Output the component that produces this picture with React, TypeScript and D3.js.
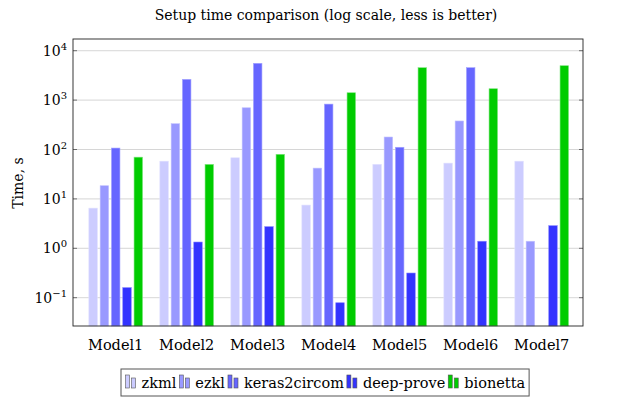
import React, { useEffect, useRef } from "react";
import * as d3 from "d3";

const models = ["Model1", "Model2", "Model3", "Model4", "Model5", "Model6", "Model7"];
const seriesNames = ["zkml", "ezkl", "keras2circom", "deep-prove", "bionetta"];
const zkml = [6.5, 58, 68, 7.5, 50, 53, 58];
const ezkl = [18.5, 333, 700, 42, 179, 378, 1.39];
const keras2circom = [107, 2630, 5560, 830, 111, 4530, null];
const deepProve = [0.16, 1.34, 2.74, 0.079, 0.316, 1.39, 2.87];
const bionetta = [70, 50, 80, 1410, 4530, 1700, 4970];
const seriesValues: (number | null)[][] = [zkml, ezkl, keras2circom, deepProve, bionetta];
const fills = ["#ccccff", "#9999ff", "#6666ff", "#3333ff", "#00cc00"];
const strokes = ["#e0e0ff", "#c2c2ff", "#a3a3ff", "#8585ff", "#80e680"];
const yTicks = [0.1, 1, 10, 100, 1000, 10000];
const yTickExp = ["−1", "0", "1", "2", "3", "4"];

const W = 625;
const H = 404;
const FONT = "DejaVu Serif";
const FS = 14;

export default function App() {
  const ref = useRef<SVGSVGElement>(null);
  useEffect(() => {
    const svg = d3.select(ref.current);
    svg.selectAll("*").remove();
    const left = 73, right = 583, top = 39, bottom = 326;

    const y = d3.scaleLog().domain([Math.pow(10, -1.573), Math.pow(10, 4.237)]).range([bottom, top]);
    const x = d3.scalePoint<string>().domain(models).range([115.7, 541.7]);
    const barW = 8.5, step = 11.3;

    svg.append("g").selectAll("line").data(yTicks).join("line")
      .attr("x1", left).attr("x2", right)
      .attr("y1", d => y(d)).attr("y2", d => y(d))
      .attr("stroke", "#cccccc").attr("stroke-width", 0.8);

    seriesValues.forEach((vals, si) => {
      svg.append("g").selectAll("rect").data(vals.map((v, i) => ({ v, m: models[i] })).filter(d => d.v != null))
        .join("rect")
        .attr("x", d => (x(d.m) as number) + (si - 2) * step - barW / 2)
        .attr("width", barW)
        .attr("y", d => y(d.v as number))
        .attr("height", d => bottom - y(d.v as number))
        .attr("fill", fills[si])
        .attr("stroke", strokes[si])
        .attr("stroke-width", 0.6);
    });

    const tg = svg.append("g");
    yTicks.forEach(t => {
      tg.append("line").attr("x1", left).attr("x2", left + 4).attr("y1", y(t)).attr("y2", y(t)).attr("stroke", "#222").attr("stroke-width", 0.6);
      tg.append("line").attr("x1", right - 4).attr("x2", right).attr("y1", y(t)).attr("y2", y(t)).attr("stroke", "#222").attr("stroke-width", 0.6);
    });

    svg.append("rect").attr("x", left).attr("y", top).attr("width", right - left).attr("height", bottom - top)
      .attr("fill", "none").attr("stroke", "#222").attr("stroke-width", 0.9);

    yTicks.forEach((t, i) => {
      const txt = svg.append("text").attr("x", 67).attr("y", y(t) + 5).attr("text-anchor", "end")
        .attr("font-family", FONT).attr("font-size", FS).attr("fill", "#000");
      txt.append("tspan").text("10");
      txt.append("tspan").attr("dy", -6).attr("font-size", 10).text(yTickExp[i]);
    });

    svg.append("g").selectAll("text").data(models).join("text")
      .attr("x", d => x(d) as number).attr("y", 350).attr("text-anchor", "middle")
      .attr("font-family", FONT).attr("font-size", 14.5).attr("fill", "#000").text(d => d);

    svg.append("text").attr("transform", "translate(23,183) rotate(-90)").attr("text-anchor", "middle")
      .attr("font-family", FONT).attr("font-size", FS).attr("fill", "#000").text("Time, s");

    svg.append("text").attr("x", 326).attr("y", 20).attr("text-anchor", "middle")
      .attr("font-family", FONT).attr("font-size", FS).attr("fill", "#000")
      .text("Setup time comparison (log scale, less is better)");

    const lg = svg.append("g");
    const box = lg.append("rect").attr("x", 121).attr("y", 369).attr("height", 27)
      .attr("fill", "#fff").attr("stroke", "#555").attr("stroke-width", 1);
    let cx = 125.5;
    seriesNames.forEach((name, si) => {
      lg.append("rect").attr("x", cx).attr("y", 375).attr("width", 4).attr("height", 13)
        .attr("fill", fills[si]).attr("stroke", "#555").attr("stroke-width", 0.6);
      lg.append("rect").attr("x", cx + 6).attr("y", 378).attr("width", 4).attr("height", 10)
        .attr("fill", fills[si]).attr("stroke", "#555").attr("stroke-width", 0.6);
      const t = lg.append("text").attr("x", cx + 16).attr("y", 388)
        .attr("font-family", FONT).attr("font-size", 14.5).attr("fill", "#000").text(name);
      const w = (t.node() as SVGTextElement).getComputedTextLength();
      cx = cx + 16 + w + 3;
    });
    box.attr("width", cx - 121 + 1);
  }, []);

  return <svg ref={ref} width={W} height={H} style={{ position: "absolute", left: 0, top: 0 }} />;
}
